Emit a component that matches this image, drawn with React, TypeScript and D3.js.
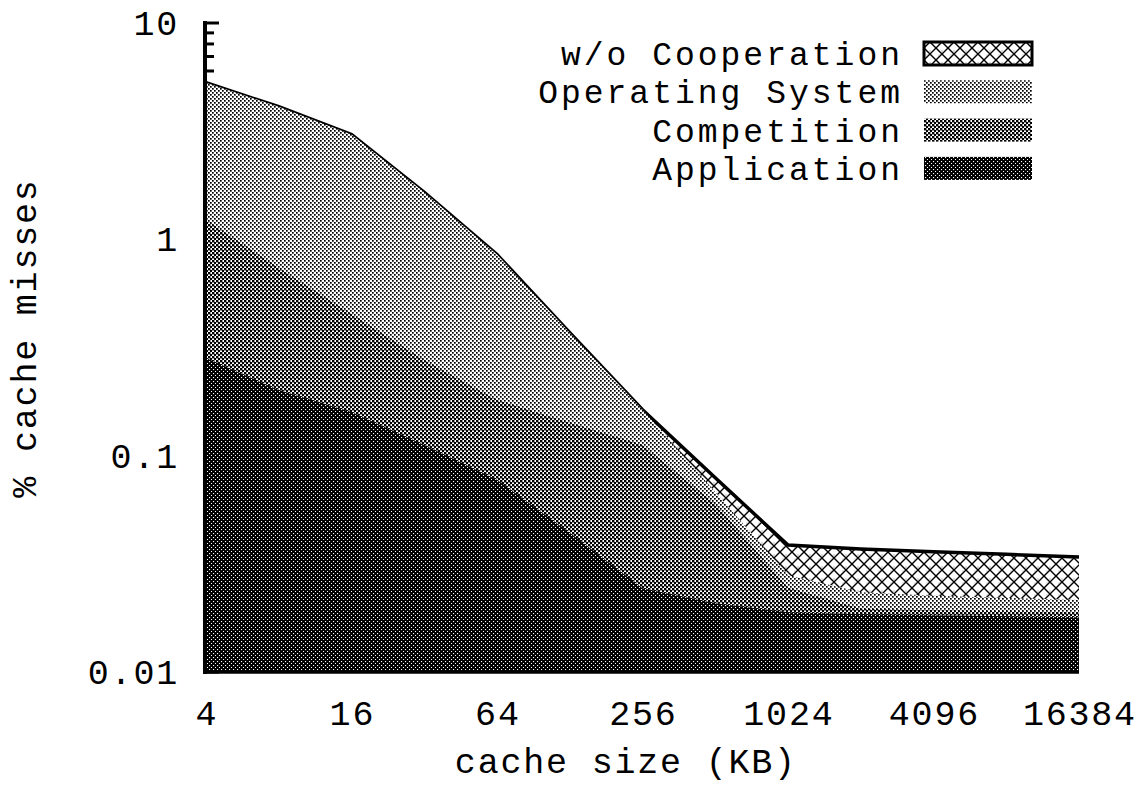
import React from "react";
import * as d3 from "d3";

const cacheSizes = [4, 8, 16, 32, 64, 128, 256, 512, 1024, 2048, 4096, 8192, 16384];
const withoutCooperation = [5.3, 4.1, 3.05, 1.65, 0.85, 0.37, 0.163, 0.079, 0.0386, 0.037, 0.036, 0.035, 0.034];
const operatingSystem = [5.3, 4.1, 3.05, 1.65, 0.85, 0.37, 0.163, 0.068, 0.028, 0.0234, 0.0225, 0.022, 0.0215];
const competition = [1.23, 0.738, 0.452, 0.277, 0.181, 0.142, 0.112, 0.06, 0.0245, 0.0196, 0.0193, 0.0191, 0.0189];
const application = [0.283, 0.201, 0.159, 0.112, 0.0773, 0.044, 0.0244, 0.0208, 0.0189, 0.0185, 0.0183, 0.0181, 0.0179];

const xTicks = [4, 16, 64, 256, 1024, 4096, 16384];
const yTicks = [0.01, 0.1, 1, 10];
const yTickLabels = ["0.01", "0.1", "1", "10"];
const legendLabels = ["w/o Cooperation", "Operating System", "Competition", "Application"];
const legendPatterns = ["hatch", "light", "medium", "dark"];

const FONT = "'Liberation Mono', 'Courier New', monospace";
const FS = 35;
const LS = 1.8;
const LFS = 33;
const LLS = 3;

export default function App() {
  const x = d3.scaleLog().base(2).domain([4, 16384]).range([206, 1079]);
  const y = d3.scaleLog().domain([0.01, 10]).range([672, 23]);

  const areaFor = (vals: number[]) =>
    d3
      .area<number>()
      .x((_, i) => x(cacheSizes[i]))
      .y0(y(0.01))
      .y1((d) => y(d))
      .curve(d3.curveLinear)(vals) as string;

  const lineFor = (vals: number[]) =>
    d3
      .line<number>()
      .x((_, i) => x(cacheSizes[i]))
      .y((d) => y(d))(vals) as string;

  const minorTicks: { v: number; major: boolean }[] = [];
  [0.01, 0.1, 1].forEach((dec) => {
    for (let m = 1; m <= 9; m++) minorTicks.push({ v: dec * m, major: m === 1 });
  });
  minorTicks.push({ v: 10, major: true });

  const layers = [
    { vals: withoutCooperation, pat: "hatch" },
    { vals: operatingSystem, pat: "light" },
    { vals: competition, pat: "medium" },
    { vals: application, pat: "dark" },
  ];

  const txt = { fontFamily: FONT, fontSize: FS, letterSpacing: LS, fill: "#000" } as const;
  const ltxt = { fontFamily: FONT, fontSize: LFS, letterSpacing: LLS, fill: "#000" } as const;

  return (
    <svg width={1138} height={787} style={{ display: "block", position: "absolute", left: 0, top: 0, background: "#fff" }}>
      <defs>
        <pattern id="light" patternUnits="userSpaceOnUse" width={4} height={4}>
          <rect width={4} height={4} fill="#fff" />
          <rect x={0} y={0} width={1.7} height={1.7} fill="#000" />
          <rect x={2} y={2} width={1.7} height={1.7} fill="#000" />
        </pattern>
        <pattern id="medium" patternUnits="userSpaceOnUse" width={4} height={4}>
          <rect width={4} height={4} fill="#fff" />
          <rect x={0} y={0} width={2.4} height={2.4} fill="#000" />
          <rect x={2} y={2} width={2.4} height={2.4} fill="#000" />
        </pattern>
        <pattern id="dark" patternUnits="userSpaceOnUse" width={4} height={4}>
          <rect width={4} height={4} fill="#000" />
          <rect x={1} y={1} width={1.1} height={1.1} fill="#fff" />
          <rect x={3} y={3} width={1.1} height={1.1} fill="#fff" />
        </pattern>
        <pattern id="hatch" patternUnits="userSpaceOnUse" width={12} height={12}>
          <rect width={12} height={12} fill="#fff" />
          <path d="M0,0L12,12M12,0L0,12" stroke="#000" strokeWidth={1.4} />
          <rect x={5.5} y={2.5} width={1} height={1} fill="#777" />
          <rect x={2.5} y={6.5} width={1} height={1} fill="#999" />
        </pattern>
      </defs>

      {/* y ticks (inward), mostly hidden by the areas */}
      {minorTicks.map((t, i) => (
        <line
          key={i}
          x1={205}
          x2={205 + (t.major ? 14 : 9)}
          y1={y(t.v)}
          y2={y(t.v)}
          stroke="#000"
          strokeWidth={3}
        />
      ))}

      {layers.map((l, i) => (
        <g key={l.pat}>
          <path d={areaFor(l.vals)} fill={`url(#${l.pat})`} />
          {i === 0 && <path d={lineFor(l.vals)} fill="none" stroke="#000" strokeWidth={3.5} />}
        </g>
      ))}

      {/* axes */}
      <line x1={205} x2={205} y1={21} y2={674} stroke="#000" strokeWidth={4} />
      <line x1={203} x2={1079} y1={672} y2={672} stroke="#000" strokeWidth={3.5} />

      {/* y tick labels */}
      {yTicks.map((v, i) => (
        <text key={v} x={179} y={y(v) + 3} textAnchor="end" dominantBaseline="central" {...txt}>
          {yTickLabels[i]}
        </text>
      ))}

      {/* x tick labels */}
      {xTicks.map((v) => (
        <text key={v} x={x(v) + LS / 2} y={725} textAnchor="middle" {...txt}>
          {String(v)}
        </text>
      ))}

      <text x={625 + LS / 2} y={773} textAnchor="middle" {...txt}>
        cache size (KB)
      </text>
      <text transform="translate(36,338) rotate(-90)" textAnchor="middle" {...txt}>
        % cache misses
      </text>

      {/* legend */}
      {legendLabels.map((lab, i) => {
        const base = 65 + i * 38.3;
        return (
          <g key={lab}>
            <text x={903} y={base} textAnchor="end" {...ltxt}>
              {lab}
            </text>
            <rect
              x={924}
              y={base - 23}
              width={108}
              height={23}
              fill={`url(#${legendPatterns[i]})`}
              stroke={i === 0 ? "#000" : "none"}
              strokeWidth={i === 0 ? 3 : 0}
            />
          </g>
        );
      })}
    </svg>
  );
}
